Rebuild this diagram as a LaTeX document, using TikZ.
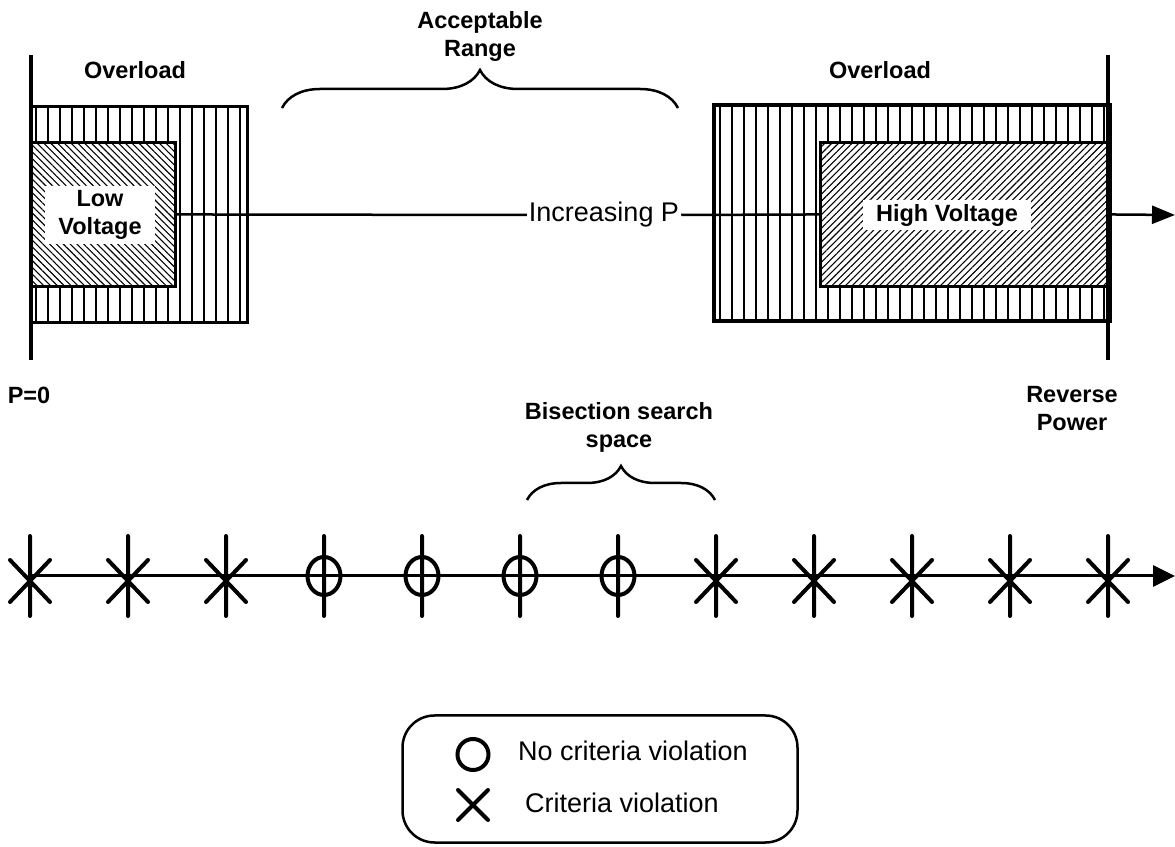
\documentclass[tikz,border=0pt]{standalone}
\usepackage{fontspec}
\setmainfont{Liberation Sans}
\usetikzlibrary{arrows.meta,patterns.meta,decorations.pathreplacing}

\begin{document}
\begin{tikzpicture}
	[x=1pt,y=1pt,
	bold/.style={font=\fontsize{23.5}{28}\selectfont\bfseries,align=center},
	plain/.style={font=\fontsize{27}{32}\selectfont},
	overbox/.style={draw,line width=3.5pt,inner sep=0pt,anchor=south west,
		pattern={Lines[angle=90,distance=12pt,line width=1.4pt]}},
	voltbox/.style={draw,line width=3.5pt,inner sep=0pt,anchor=south west,
		preaction={fill=white}},
	volttxt/.style={bold,fill=white,inner xsep=13pt,inner ysep=4pt},
	boundline/.style={line width=3.5pt},
	midline/.style={line width=2.5pt},
	brace/.style={decorate,line width=2.5pt},
	axis/.style={line width=3pt,-{Triangle[length=22pt,width=21pt]}},
	markline/.style={line width=4pt,line cap=round}]
	\useasboundingbox (0,0) rectangle (1175,846);

	% overload regions and voltage regions
	\node[overbox,minimum width=216pt,minimum height=216pt,name=lowover] at (31,523) {};
	\node[overbox,minimum width=396pt,minimum height=216pt,name=highover] at (712,523) {};
	\node[voltbox,minimum width=144pt,minimum height=144pt,name=lowbox,
		pattern={Lines[angle=-45,distance=4.8pt,line width=1.1pt]}] at (31,559) {};
	\node[voltbox,minimum width=288pt,minimum height=144pt,name=highbox,
		pattern={Lines[angle=45,distance=4.8pt,line width=1.1pt]}] at (820,559) {};
	\node[volttxt,name=lowtxt] at (100,631) {Low\\Voltage};
	\node[volttxt,name=hightxt] at (947,631) {High Voltage};

	% bounds
	\draw[boundline] (31,486) coordinate (pzero) -- (31,791);
	\draw[boundline] (1108,486) coordinate (prev) -- (1108,791);

	% power axis
	\node[plain,inner xsep=2pt,name=incp] at (604,631) {Increasing P};
	\coordinate (pend) at (1175,631);
	\draw[midline] (lowbox.east) -- (incp.west);
	\draw[midline] (incp.east) -- (highbox.west);
	\draw[midline,-{Triangle[length=23pt,width=18pt]}] (highbox.east) -- (pend);

	% labels
	\node[bold,name=lowlbl] at (135,776) {Overload};
	\node[bold,name=highlbl] at (880,776) {Overload};
	\node[bold,name=acclbl] at (480,810) {Acceptable\\Range};
	\node[bold,name=pzerolbl] at (29,451) {P=0};
	\node[bold,name=revlbl] at (1072,437) {Reverse\\Power};
	\node[bold,name=bislbl] at (619,419) {Bisection search\\space};
	\draw[brace,decoration={brace,amplitude=38pt}] (282,738) -- (678,738);
	\draw[brace,decoration={brace,amplitude=34pt}] (527,346) -- (715,346);

	% search points
	\foreach \i in {0,...,11}
	{
		\coordinate (m\i) at (30+98*\i,270);
	}
	\coordinate (axend) at (1175,270);
	\draw[axis] (m0) -- (axend);
	\foreach \i in {0,1,2,7,8,9,10,11}
	{
		\draw[markline] ([yshift=-40pt]m\i) -- ([yshift=40pt]m\i)
			([shift={(-20,-26)}]m\i) -- ([shift={(20,16)}]m\i)
			([shift={(-20,16)}]m\i) -- ([shift={(20,-26)}]m\i);
	}
	\foreach \i in {3,...,6}
	{
		\draw[markline] ([yshift=-40pt]m\i) -- ([yshift=40pt]m\i)
			(m\i) ellipse [x radius=16.5,y radius=19];
	}

	% legend
	\node[draw,line width=2.5pt,rounded corners=32pt,minimum width=395pt,
		minimum height=127pt,name=legend] at (600,67) {};
	\draw[markline] (473,91.5) circle [radius=15.5];
	\draw[markline] (458,26) -- (488,56) (458,56) -- (488,26);
	\node[plain,anchor=base west,inner sep=0pt,name=noviol] at (518,85) {No criteria violation};
	\node[plain,anchor=base west,inner sep=0pt,name=viol] at (525,34) {Criteria violation};
\end{tikzpicture}
\end{document}
